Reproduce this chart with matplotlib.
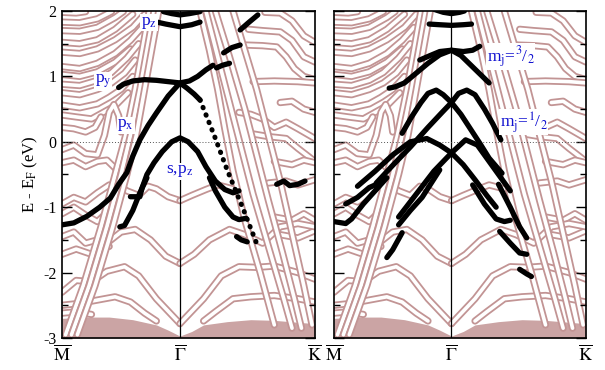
import numpy as np
import matplotlib.pyplot as plt

plt.rcParams['font.family'] = ['Liberation Serif', 'DejaVu Serif']
plt.rcParams['mathtext.fontset'] = 'stix'

# k path: M = 0, Gamma = 1, K = 2.144 (|GK|/|GM| = 2/sqrt(3))
k_ticks = [0.0, 1.0, 2.144]
k_labels = [r'$\overline{\mathrm{M}}$', r'$\overline{\Gamma}$', r'$\overline{\mathrm{K}}$']

# ---- pink (bulk-like) bands, shared by both panels, (k, E) pairs ----
pink_mg_upper = [
    [(0.0, 1.98), (0.12, 1.97), (0.2, 1.99)],
    [(0.0, 1.83), (0.15, 1.82), (0.3, 1.88), (0.42, 1.99)],
    [(0.0, 1.70), (0.15, 1.69), (0.3, 1.75), (0.45, 1.9), (0.52, 1.99)],
    [(0.0, 1.52), (0.15, 1.5), (0.3, 1.56), (0.45, 1.72), (0.6, 1.95)],
    [(0.0, 1.37), (0.15, 1.35), (0.3, 1.42), (0.45, 1.56), (0.6, 1.75), (0.7, 1.95)],
    [(0.0, 1.15), (0.15, 1.12), (0.3, 1.2), (0.45, 1.35), (0.58, 1.55), (0.68, 1.75)],
    [(0.0, 1.03), (0.15, 1.0), (0.3, 1.07), (0.45, 1.22), (0.58, 1.42)],
    [(0.0, 0.88), (0.15, 0.86), (0.3, 0.94), (0.42, 1.06), (0.55, 1.28), (0.65, 1.5)],
    [(0.0, 0.75), (0.15, 0.72), (0.3, 0.8), (0.42, 0.9), (0.53, 1.05), (0.62, 1.25)],
    [(0.0, 0.56), (0.15, 0.52), (0.3, 0.58), (0.4, 0.68), (0.5, 0.8), (0.6, 1.0)],
    [(0.0, 0.41), (0.12, 0.38), (0.25, 0.35), (0.35, 0.45), (0.45, 0.55), (0.56, 0.75)],
    [(0.0, 0.22), (0.1, 0.2), (0.2, 0.15), (0.28, 0.22), (0.33, 0.38)],
    [(0.0, -0.12), (0.1, -0.05), (0.2, -0.18), (0.3, -0.2), (0.36, 0.1),
     (0.4, 0.45), (0.44, 0.57), (0.48, 0.4), (0.5, 0.15)],
    [(0.0, -0.32), (0.1, -0.28), (0.2, -0.38), (0.3, -0.3), (0.38, -0.28), (0.46, -0.42)],
]
pink_mg_lower = [
    [(0.0, -0.95), (0.1, -0.85), (0.2, -0.92), (0.3, -0.78), (0.4, -0.66), (0.5, -0.7)],
    [(0.0, -1.1), (0.1, -1.0), (0.2, -1.12), (0.3, -1.22), (0.4, -1.05), (0.45, -0.95)],
    [(0.0, -1.45), (0.1, -1.38), (0.2, -1.55), (0.3, -1.5), (0.4, -1.6)],
    [(0.45, -0.62), (0.55, -0.75), (0.65, -0.82), (0.73, -0.68), (0.8, -0.72),
     (0.9, -0.84), (1.0, -0.9)],
    [(0.0, -1.72), (0.12, -1.64), (0.25, -1.72), (0.38, -1.55), (0.5, -1.38),
     (0.62, -1.34), (0.75, -1.5), (0.88, -1.75), (1.0, -1.86)],
    [(0.0, -2.3), (0.12, -2.12), (0.25, -2.14), (0.38, -1.98), (0.53, -1.91),
     (0.65, -2.05), (0.8, -2.4), (1.0, -2.78)],
    [(0.0, -2.5), (0.15, -2.47), (0.3, -2.42), (0.45, -2.37), (0.58, -2.45),
     (0.7, -2.62), (0.8, -2.74)],
    [(0.0, -2.62), (0.12, -2.6), (0.25, -2.64)],
]
pink_mg_steep = [
    [(0.03, -2.95), (0.18, -2.2), (0.33, -1.3), (0.45, -0.5), (0.54, 0.1),
     (0.62, 0.8), (0.69, 1.5), (0.74, 2.0)],
    [(0.08, -2.95), (0.23, -2.2), (0.38, -1.3), (0.5, -0.5), (0.58, 0.1),
     (0.66, 0.8), (0.73, 1.5), (0.78, 2.0)],
    [(0.13, -2.95), (0.28, -2.2), (0.43, -1.3), (0.55, -0.5), (0.63, 0.1),
     (0.7, 0.8), (0.77, 1.5), (0.82, 2.0)],
]
pink_gk_upper = [
    [(1.55, 1.48), (1.7, 1.47), (1.82, 1.45), (1.9, 1.3), (1.97, 1.12),
     (2.05, 1.0), (2.144, 0.95)],
    [(1.62, 0.92), (1.8, 0.93), (2.0, 0.92), (2.144, 0.9)],
    [(1.72, 1.98), (1.85, 1.97), (1.95, 1.85), (2.05, 1.62), (2.144, 1.52)],
    [(1.5, 0.45), (1.6, 0.42), (1.7, 0.35), (1.8, 0.22), (1.9, 0.3), (2.0, 0.2),
     (2.144, 0.05)],
    [(1.62, 0.12), (1.75, 0.08), (1.9, 0.05), (2.0, -0.1), (2.144, -0.3)],
    [(1.58, 1.72), (1.7, 1.7), (1.85, 1.68), (1.95, 1.55), (2.05, 1.3), (2.144, 1.22)],
    [(1.85, 0.6), (1.95, 0.62), (2.05, 0.5), (2.144, 0.45)],
]
pink_gk_lower = [
    [(1.0, -0.9), (1.1, -0.82), (1.22, -0.73), (1.32, -0.66), (1.45, -0.72)],
    [(1.75, -0.63), (1.9, -0.6), (2.0, -0.66), (2.144, -0.58)],
    [(1.8, -0.3), (1.95, -0.35), (2.05, -0.28), (2.144, -0.32)],
    [(1.8, -1.15), (1.95, -1.2), (2.05, -1.1), (2.144, -1.2)],
    [(1.85, -1.42), (2.0, -1.47), (2.144, -1.36)],
    [(1.0, -1.86), (1.12, -1.72), (1.25, -1.5), (1.42, -1.34), (1.55, -1.42),
     (1.7, -1.55), (1.85, -1.3), (2.0, -1.25), (2.144, -1.3)],
    [(1.0, -2.78), (1.2, -2.4), (1.35, -2.05), (1.5, -1.91), (1.65, -1.92),
     (1.8, -1.9), (2.0, -2.0), (2.144, -2.1)],
    [(1.2, -2.74), (1.3, -2.6), (1.45, -2.4), (1.6, -2.37), (1.8, -2.35),
     (2.0, -2.4), (2.144, -2.45)],
]
pink_gk_steep = [
    [(1.17, 2.0), (1.25, 1.4), (1.32, 0.8), (1.38, 0.2), (1.45, -0.45),
     (1.55, -1.2), (1.68, -2.0), (1.8, -2.8)],
    [(1.22, 2.0), (1.32, 1.3), (1.42, 0.6), (1.52, -0.1), (1.62, -0.8),
     (1.75, -1.6), (1.88, -2.4), (1.95, -2.85)],
    [(1.3, 2.0), (1.42, 1.3), (1.55, 0.5), (1.65, -0.2), (1.75, -0.9),
     (1.87, -1.7), (1.97, -2.4), (2.03, -2.85)],
    [(1.45, 2.0), (1.55, 1.4), (1.65, 0.8), (1.75, 0.1), (1.85, -0.6),
     (1.95, -1.4), (2.05, -2.2), (2.12, -2.8)],
]
# top edge of the dense bottom block of bands
block_k = [0.0, 0.2, 0.4, 0.6, 0.8, 0.9, 1.0, 1.1, 1.2, 1.4, 1.6, 1.8, 2.0, 2.144]
block_top = [-2.7, -2.68, -2.68, -2.72, -2.8, -2.88, -2.97, -2.9, -2.8, -2.75,
             -2.72, -2.73, -2.76, -2.78]

# ---- black (projected) bands, left panel ----
black_left = [
    [(0.0, -1.27), (0.1, -1.24), (0.21, -1.14), (0.32, -1.0), (0.41, -0.86),
     (0.48, -0.65), (0.55, -0.47), (0.6, -0.22), (0.66, 0.03), (0.73, 0.25),
     (0.8, 0.44), (0.9, 0.7), (1.0, 0.9), (1.06, 0.82), (1.12, 0.73), (1.17, 0.64)],
    [(0.48, 0.83), (0.52, 0.88), (0.6, 0.93), (0.7, 0.95), (0.8, 0.94),
     (0.9, 0.92), (1.0, 0.9), (1.08, 0.93), (1.15, 1.0), (1.22, 1.1), (1.28, 1.17)],
    [(0.86, 1.99), (0.93, 1.96), (1.0, 1.94), (1.08, 1.96), (1.17, 1.99)],
    [(0.78, 1.84), (0.88, 1.8), (1.0, 1.76), (1.1, 1.79), (1.17, 1.83)],
    [(1.31, 1.13), (1.36, 1.17), (1.42, 1.2)],
    [(1.37, 1.36), (1.44, 1.44), (1.51, 1.48)],
    [(1.51, 1.71), (1.58, 1.82), (1.66, 1.94)],
    [(0.58, -0.84), (0.66, -0.84), (0.68, -0.7), (0.72, -0.5), (0.78, -0.32),
     (0.85, -0.15), (0.93, 0.0), (1.0, 0.06), (1.07, 0.0), (1.15, -0.15),
     (1.22, -0.38), (1.3, -0.6), (1.38, -0.73), (1.45, -0.78), (1.5, -0.75)],
    [(0.49, -1.3), (0.53, -1.28), (0.6, -1.05), (0.66, -0.78), (0.72, -0.55)],
    [(1.25, -0.55), (1.3, -0.75), (1.38, -1.0), (1.45, -1.15), (1.5, -1.19),
     (1.56, -1.17)],
    [(1.48, -1.45), (1.52, -1.5), (1.57, -1.53)],
    [(1.82, -0.65), (1.88, -0.6), (1.93, -0.67), (2.0, -0.65), (2.06, -0.6)],
]
black_left_dotted = [(1.17, 0.64), (1.29, 0.1), (1.4, -0.43), (1.53, -1.0), (1.66, -1.6)]

# ---- black bands, right panel (spin-orbit split) ----
black_right = [
    [(0.86, 2.02), (0.93, 1.98), (1.0, 1.96), (1.07, 1.98), (1.11, 2.0)],
    [(0.81, 1.8), (0.9, 1.79), (1.0, 1.78), (1.1, 1.79), (1.17, 1.8)],
    [(0.47, 0.82), (0.52, 0.84), (0.6, 0.9), (0.7, 1.05), (0.8, 1.2), (0.9, 1.33),
     (1.0, 1.4), (1.08, 1.32), (1.16, 1.18), (1.24, 1.04), (1.32, 0.9)],
    [(0.73, 1.25), (0.82, 1.32), (0.9, 1.38), (1.0, 1.4), (1.1, 1.38),
     (1.18, 1.4), (1.24, 1.46)],
    [(0.58, 0.13), (0.66, 0.38), (0.74, 0.6), (0.8, 0.74), (0.87, 0.79),
     (0.93, 0.72), (1.0, 0.6), (1.08, 0.42), (1.16, 0.2), (1.24, -0.02),
     (1.32, -0.25), (1.43, -0.48)],
    [(0.36, -0.63), (0.5, -0.36), (0.65, -0.08), (0.8, 0.22), (0.92, 0.45),
     (1.0, 0.6), (1.06, 0.74), (1.13, 0.79), (1.2, 0.72), (1.28, 0.5),
     (1.35, 0.28), (1.42, 0.03)],
    [(0.2, -0.68), (0.35, -0.45), (0.5, -0.2), (0.65, 0.0), (0.79, 0.05),
     (0.9, -0.05), (1.0, -0.17), (1.1, -0.35), (1.2, -0.58), (1.3, -0.82),
     (1.38, -1.0)],
    [(0.55, -1.15), (0.7, -0.8), (0.85, -0.45), (1.0, -0.17), (1.12, 0.03),
     (1.22, -0.05), (1.32, -0.3), (1.42, -0.55), (1.5, -0.75)],
    [(0.0, -1.22), (0.1, -1.25), (0.15, -1.18), (0.25, -0.95), (0.35, -0.75),
     (0.45, -0.55)],
    [(0.1, -0.95), (0.2, -0.85), (0.3, -0.7), (0.4, -0.62)],
    [(0.45, -1.77), (0.5, -1.65), (0.58, -1.39)],
    [(0.55, -1.27), (0.65, -1.05), (0.75, -0.85), (0.9, -0.43)],
    [(1.18, -0.66), (1.28, -0.95), (1.38, -1.18), (1.45, -1.22), (1.5, -1.2)],
    [(1.4, -0.65), (1.5, -1.0), (1.58, -1.3), (1.64, -1.47)],
    [(1.41, -1.37), (1.5, -1.55), (1.58, -1.7), (1.64, -1.72)],
    [(1.58, -1.95), (1.64, -2.02), (1.68, -2.06)],
]

left_labels = [('p$_\\mathrm{z}$', 0.67, 1.82), ('p$_\\mathrm{y}$', 0.28, 0.92),
               ('p$_\\mathrm{x}$', 0.47, 0.25), ('s,p$_\\mathrm{z}$', 0.88, -0.45)]
right_labels = [('m$_\\mathrm{j}$=$^3$/$_2$', 1.30, 1.3),
                ('m$_\\mathrm{j}$=$^1$/$_2$', 1.41, 0.3)]

PINK = '#c29494'
BLOCK = '#cba4a4'


def tube(ax, band):
    k, e = zip(*band)
    ax.plot(k, e, color=PINK, lw=5.2, solid_capstyle='round', zorder=1)
    ax.plot(k, e, color='white', lw=2.6, solid_capstyle='round', zorder=1)


def panel(ax, black, dotted, labels):
    ax.fill_between(block_k, -3.0, block_top, color=BLOCK, lw=0, zorder=1)
    for group in [pink_mg_upper, pink_mg_lower, pink_mg_steep,
                  pink_gk_upper, pink_gk_lower, pink_gk_steep]:
        for band in group:
            tube(ax, band)
    ax.axvline(1.0, color='black', lw=0.9, zorder=2)
    ax.axhline(0.0, color='#555555', lw=0.7, ls=(0, (1, 2)), zorder=2)
    for band in black:
        k, e = zip(*band)
        ax.plot(k, e, color='black', lw=3.8, solid_capstyle='round', zorder=3)
    if dotted:
        k, e = zip(*dotted)
        ax.plot(k, e, color='black', lw=3.6, ls=(0, (0.1, 1.5)),
                dash_capstyle='round', zorder=3)
    for txt, x, y in labels:
        ax.text(x, y, txt, color='#1010d0', fontsize=12.5, ha='left', va='center',
                zorder=5, bbox=dict(facecolor='white', edgecolor='none', pad=0.5))
    ax.set_xlim(0, 2.144)
    ax.set_ylim(-3, 2)
    ax.set_xticks(k_ticks)
    ax.set_xticklabels(k_labels, fontsize=13)
    ax.tick_params(axis='x', length=0, pad=5)
    ax.set_yticks([-3, -2, -1, 0, 1, 2])
    ax.set_yticks(np.arange(-2.5, 2, 1.0), minor=True)
    ax.tick_params(axis='y', which='both', direction='in', left=True, right=True,
                   labelsize=11.5, pad=4)
    ax.tick_params(axis='y', which='major', length=7, width=1)
    ax.tick_params(axis='y', which='minor', length=4, width=1)
    for s in ax.spines.values():
        s.set_linewidth(1.2)


fig = plt.figure(figsize=(6.05, 3.70), dpi=100)
ax1 = fig.add_axes([0.1025, 0.0865, 0.418, 0.8838])
ax2 = fig.add_axes([0.552, 0.0865, 0.4165, 0.8838])

panel(ax1, black_left, black_left_dotted, left_labels)
panel(ax2, black_right, None, right_labels)
ax1.set_yticklabels(['-3', '-2', '-1', '0', '1', '2'])
ax1.set_ylabel('E - E$_\\mathrm{F}$ (eV)', fontsize=12, labelpad=2)
ax2.tick_params(axis='y', labelleft=False)

fig.savefig('out.png', dpi=100)
